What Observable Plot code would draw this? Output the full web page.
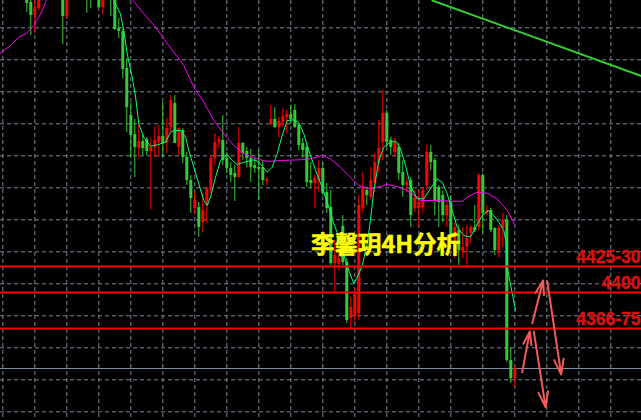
<!DOCTYPE html>
<html><head><meta charset="utf-8">
<script src="https://cdn.jsdelivr.net/npm/d3@7"></script>
<script src="https://cdn.jsdelivr.net/npm/@observablehq/plot@0.6"></script>
<style>
html,body{margin:0;padding:0;background:#000;}
#chart{width:641px;height:420px;overflow:hidden;background:#000;}
#chart svg{display:block;}
</style>
</head><body><div id="chart"></div>
<script>
// ---- candle data (bar index, open, high, low, close) ----
const candleIndex = [6,7,8,9,15,16,21,22,24,25,27,28,29,30,31,32,33,34,35,36,37,38,39,40,41,42,43,44,45,46,47,48,49,50,51,52,53,54,55,56,57,58,59,60,61,62,63,64,65,66,67,68,69,70,71,72,73,74,75,76,77,78,79,80,81,82,83,84,85,86,87,88,89,90,91,92,93,94,95,96,97,98,99,100,101,102,103,104,105,106,107,108,109,110,111,112,113,114,115,116,117,118,119,120,121,122,123,124,125,126,127,128];
const openPrices  = [4697,4690,4677,4684,4697,4676,4705,4705,4697,4685,4705,4695,4664,4661,4624,4577,4558,4544,4551,4553,4541,4545,4550,4556,4549,4565,4589,4545,4562,4535,4512,4484,4485,4470,4487,4502,4534,4550,4552,4534,4524,4519,4515,4549,4541,4534,4527,4525,4525,4511,4568,4573,4565,4570,4575,4578,4582,4567,4549,4545,4512,4509,4512,4524,4500,4485,4429,4428,4466,4430,4374,4377,4379,4484,4502,4495,4509,4529,4550,4579,4552,4540,4545,4520,4507,4512,4484,4484,4485,4507,4540,4532,4505,4497,4477,4490,4449,4462,4441,4445,4459,4465,4465,4517,4479,4482,4464,4442,4464,4472,4332,4314];
const highPrices  = [4702,4692,4694,4700,4702,4702,4710,4710,4702,4702,4710,4700,4674,4663,4634,4589,4573,4568,4557,4555,4554,4565,4567,4590,4574,4597,4597,4565,4564,4540,4517,4500,4490,4499,4505,4537,4559,4556,4577,4540,4530,4527,4565,4550,4545,4543,4534,4542,4532,4515,4587,4585,4575,4584,4582,4587,4588,4569,4554,4547,4530,4517,4532,4529,4509,4502,4452,4442,4477,4434,4395,4404,4497,4520,4505,4525,4539,4572,4602,4582,4555,4554,4549,4532,4515,4515,4502,4502,4505,4547,4547,4534,4507,4502,4490,4497,4469,4467,4465,4467,4467,4487,4519,4519,4487,4484,4465,4467,4479,4477,4345,4327];
const lowPrices   = [4680,4657,4659,4682,4648,4673,4679,4684,4684,4678,4676,4662,4654,4614,4560,4535,4515,4534,4537,4537,4483,4535,4535,4535,4539,4559,4549,4537,4529,4507,4479,4479,4455,4460,4469,4499,4527,4544,4527,4519,4510,4491,4514,4532,4525,4510,4519,4492,4507,4507,4567,4564,4555,4565,4559,4569,4564,4542,4534,4505,4504,4484,4500,4497,4479,4427,4400,4422,4427,4369,4364,4369,4372,4480,4487,4492,4500,4519,4532,4545,4537,4535,4512,4495,4500,4465,4480,4465,4479,4502,4522,4477,4465,4470,4465,4452,4434,4427,4434,4424,4449,4460,4462,4459,4477,4460,4437,4435,4445,4330,4309,4305];
const closePrices = [4689,4677,4685,4695,4676,4697,4696,4697,4685,4697,4697,4663,4661,4623,4585,4557,4545,4551,4544,4541,4545,4552,4556,4549,4564,4592,4549,4564,4535,4512,4494,4492,4465,4482,4504,4534,4550,4553,4532,4524,4517,4515,4549,4539,4534,4525,4524,4523,4512,4513,4573,4565,4571,4576,4578,4573,4565,4547,4542,4510,4509,4514,4524,4499,4484,4429,4437,4434,4430,4372,4385,4399,4487,4505,4497,4512,4530,4544,4579,4550,4545,4550,4519,4507,4510,4477,4495,4490,4502,4540,4530,4492,4490,4477,4487,4455,4465,4442,4445,4454,4465,4462,4517,4479,4482,4462,4442,4464,4472,4332,4314,4324];

// ---- moving averages (bar index, price) ----
const slowMaIndex = [-0.6,1.9,4.0,6.1,7.75,9.0,10.25,10.85,12,31.5,32.6,35.25,38.2,40.25,42.75,45.25,47.75,50.25,52.75,55.25,57.75,60.25,62.75,66.1,69.4,74.4,76.9,79.85,81.9,84.4,86.9,89.0,91.9,94.4,96.1,98.6,101.1,103.6,104.4,107.75,111.9,114.85,116.1,118.6,121.1,123.6,126.1,128.0];
const slowMaValue = [4639.3,4647,4655.3,4659.7,4667,4675.3,4685.3,4692,4705,4705,4692,4678.7,4665.3,4653.7,4640.3,4627,4605.3,4590.3,4572,4558.7,4547,4538.7,4534.7,4531,4532,4532.7,4533.7,4537,4533.7,4525.3,4515.3,4507,4503.7,4506,4508,4506,4502,4495.3,4492,4492,4491.3,4491.3,4495.3,4500.3,4499.3,4493.7,4482,4468];
const fastMaIndex = [26.9,27.75,29.4,30.25,31.1,32.35,33.2,34.0,35.25,36.9,38.6,40.7,41.9,43.0,44.4,45.7,46.5,47.75,49.0,50.25,51.1,51.9,53.2,54.4,56.1,57.35,58.6,60.25,62.75,63.9,64.9,66.1,67.35,68.6,69.85,71.1,72.75,74.0,75.25,76.5,78.2,79.85,81.5,82.75,83.9,85.25,86.5,87.75,88.6,89.85,91.1,91.9,92.75,94.0,95.25,96.9,98.2,99.4,100.7,101.9,103.6,105.25,106.9,108.6,109.85,111.1,112.35,113.6,115.25,116.9,118.2,119.85,121.5,122.75,124.0,125.25,125.9,126.1,126.9,128.2];
const fastMaValue = [4702,4692,4678.7,4662,4638.7,4615.3,4595.3,4568.7,4555.3,4546.3,4547.7,4550.3,4560.3,4562,4562,4555.3,4542,4525.3,4508.7,4492,4487,4495.3,4515.3,4532,4538,4532,4528,4530.3,4532.7,4531,4526,4520.3,4525.3,4538.7,4557,4572,4572.7,4570,4558.7,4542,4522,4505,4485.3,4468.7,4457,4437,4422,4409,4415,4427,4448.7,4472,4502,4532,4545.3,4550.3,4551.3,4544,4527,4507,4493.7,4493.7,4503.7,4513.7,4510.3,4498.7,4482,4465.3,4457,4455.3,4465.3,4477,4482,4477,4470.3,4462,4448.7,4425.3,4408.7,4382];

// ---- trend line (bar index, price) ----
const trendIndex = [107.4,160];
const trendValue = [4692,4616];

// ---- horizontal levels ----
const levelPrices = [4426,4400,4364];
const levelLabels = ["4425-30","4400","4366-75"];
const lastPriceLevel = 4324;

// ---- arrows (bar index / price) ----
const arrowFromIndex = [129.85,132.75,132.35,136.1];
const arrowFromPrice = [4320.3,4361,4369.3,4411.3];
const arrowToIndex   = [131.75,135.7,135.1,139.6];
const arrowToPrice   = [4361,4285.3,4412,4318];

const titleText = "李馨玥4H分析";

// ---- tables ----
const candles = candleIndex.map((k,i)=>({k, o:openPrices[i], h:highPrices[i], l:lowPrices[i], c:closePrices[i]}));
const slowMa = slowMaIndex.map((k,i)=>({k, v:slowMaValue[i]}));
const fastMa = fastMaIndex.map((k,i)=>({k, v:fastMaValue[i]}));
const trend = trendIndex.map((k,i)=>({k, v:trendValue[i]}));
const levels = levelPrices.map((p,i)=>({p, label:levelLabels[i]}));
const arrows = arrowFromIndex.map((k,i)=>({x1:k, y1:arrowFromPrice[i], x2:arrowToIndex[i], y2:arrowToPrice[i]}));

const UP = "#ff0000", DOWN = "#32cd32";
const col = d => d.c >= d.o ? UP : DOWN;
const gridColor = "#7a8898";

const chart = Plot.plot({
  width: 641, height: 420,
  marginTop: 0, marginRight: 0, marginBottom: 0, marginLeft: 0,
  style: {background: "#000", overflow: "hidden"},
  x: {type: "linear", domain: [-0.575, 159.675], axis: null},
  y: {type: "linear", domain: [4272, 4692], axis: null},
  marks: [
    Plot.ruleX(d3.range(0, 160, 8), {stroke: gridColor, strokeWidth: 1, strokeDasharray: "4,3"}),
    Plot.ruleY(d3.range(4280.7, 4680, 32), {stroke: gridColor, strokeWidth: 1, strokeDasharray: "4,3"}),
    Plot.ruleY([lastPriceLevel], {stroke: "#7f8ea0", strokeWidth: 1}),
    Plot.ruleX(candles, {x: "k", y1: "l", y2: "h", stroke: col, strokeWidth: 1, clip: true}),
    Plot.ruleX(candles, {x: "k", y1: "o", y2: "c", stroke: col, strokeWidth: 3, clip: true}),
    Plot.line(slowMa, {x: "k", y: "v", stroke: "#ff00ff", strokeWidth: 1, clip: true}),
    Plot.line(fastMa, {x: "k", y: "v", stroke: "#00ff80", strokeWidth: 1, clip: true}),
    Plot.line(trend, {x: "k", y: "v", stroke: "#32cd32", strokeWidth: 2, clip: true}),
    Plot.ruleY(levels, {y: "p", stroke: "#ff0000", strokeWidth: 2}),
    Plot.text(levels, {y: "p", text: "label", frameAnchor: "right", textAnchor: "end", lineAnchor: "bottom", dx: -1, dy: -4,
      fill: "#d81010", stroke: "#d81010", strokeWidth: 0.4, fontFamily: "Liberation Sans", fontWeight: "bold", fontSize: 17.5}),
    Plot.arrow(arrows, {x1: "x1", y1: "y1", x2: "x2", y2: "y2", stroke: "#f05a5a", strokeWidth: 2, headLength: 12, headAngle: 35}),
    Plot.text([titleText], {frameAnchor: "middle", dx: 64.5, dy: 35, text: d => d, fill: "#ffff00", stroke: "#ffff00", strokeWidth: 0.5,
      fontFamily: "Noto Sans CJK SC", fontWeight: "bold", fontSize: 23.5})
  ]
});
document.getElementById("chart").appendChild(chart);
</script>
</body></html>
